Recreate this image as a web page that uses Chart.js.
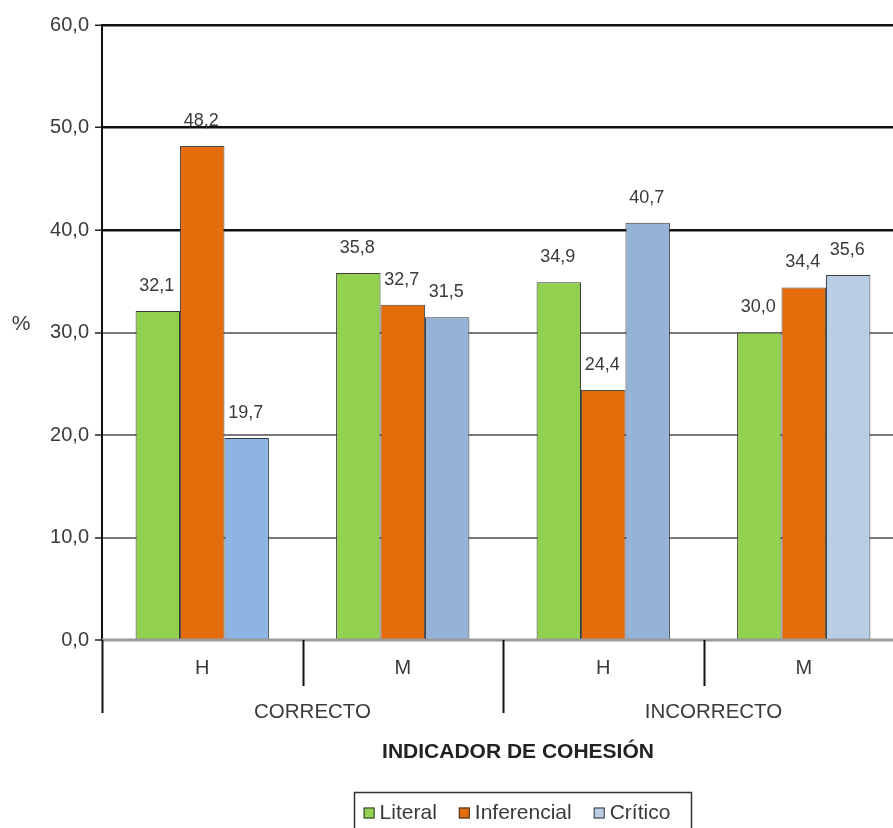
<!DOCTYPE html>
<html>
<head>
<meta charset="utf-8">
<script src="https://cdn.jsdelivr.net/npm/chart.js@4/dist/chart.umd.min.js"></script>
<style>
  html, body { margin: 0; padding: 0; background: #fff; overflow: hidden; }
  #wrap { width: 904px; height: 828px; }
</style>
</head>
<body>
<div id="wrap"><canvas id="c" width="904" height="828"></canvas></div>
<script>
// Sub-categories (sex) and their parent groups
const categories = ['H', 'M', 'H', 'M'];
const groups = ['CORRECTO', 'INCORRECTO'];
const seriesNames = ['Literal', 'Inferencial', 'Crítico'];

// Percentages per reading level
const literal = [32.1, 35.8, 34.9, 30.0];
const inferencial = [48.2, 32.7, 24.4, 34.4];
const critico = [19.7, 31.5, 40.7, 35.6];

const yTicks = [0, 10, 20, 30, 40, 50, 60];
const axisTitle = 'INDICADOR DE COHESIÓN';
const yLabel = '%';

const FONT = '"Liberation Sans", Arial, sans-serif';
const TEXT = '#3a3a3a';
const fmt = v => v.toFixed(1).replace('.', ',');

// Value labels above every bar
const valueLabels = {
  id: 'valueLabels',
  afterDatasetsDraw(chart) {
    const ctx = chart.ctx;
    ctx.save();
    ctx.font = '18px ' + FONT;
    ctx.fillStyle = TEXT;
    ctx.textAlign = 'center';
    ctx.textBaseline = 'middle';
    chart.data.datasets.forEach((ds, di) => {
      chart.getDatasetMeta(di).data.forEach((bar, i) => {
        ctx.fillText(fmt(ds.data[i]), bar.x - 1, bar.y - 25);
      });
    });
    ctx.restore();
  }
};

// Two-level category axis, axis title, y label and boxed legend
const decorations = {
  id: 'decorations',
  afterDraw(chart) {
    const ctx = chart.ctx;
    const area = chart.chartArea;
    const xs = chart.scales.x;
    const n = categories.length;
    const step = area.width / n;
    const base = area.bottom;
    ctx.save();

    // zero line
    ctx.strokeStyle = '#9a9a9a';
    ctx.lineWidth = 3;
    ctx.beginPath();
    ctx.moveTo(area.left, base);
    ctx.lineTo(area.right, base);
    ctx.stroke();

    // separators between categories
    ctx.strokeStyle = '#111';
    ctx.lineWidth = 2;
    for (let i = 0; i <= n; i++) {
      const x = Math.round(xs.getPixelForValue(0) - step / 2 + i * step) + 0.5;
      const long = i % 2 === 0;
      ctx.beginPath();
      ctx.moveTo(x, base);
      ctx.lineTo(x, base + (long ? 73 : 46));
      ctx.stroke();
    }

    ctx.fillStyle = TEXT;
    ctx.textAlign = 'center';
    ctx.textBaseline = 'middle';
    ctx.font = '20px ' + FONT;
    categories.forEach((c, i) => {
      ctx.fillText(c, xs.getPixelForValue(i), base + 28);
    });
    ctx.font = '20.5px ' + FONT;
    groups.forEach((g, gi) => {
      const x0 = xs.getPixelForValue(gi * 2) - step / 2;
      ctx.fillText(g, x0 + step + 10, base + 72);
    });

    const cx = (area.left + area.right) / 2 + 15;
    ctx.fillStyle = '#222';
    ctx.font = 'bold 21px ' + FONT;
    ctx.fillText(axisTitle, cx, base + 112);

    // y label
    ctx.fillStyle = TEXT;
    ctx.font = '21px ' + FONT;
    ctx.fillText(yLabel, 21, chart.scales.y.getPixelForValue(30) - 8);

    // legend
    ctx.font = '21px ' + FONT;
    const sq = 11, gapTxt = 5, gapItem = 22;
    const widths = seriesNames.map(s => ctx.measureText(s).width);
    const total = widths.reduce((a, w) => a + sq + gapTxt + w, 0) + gapItem * (seriesNames.length - 1);
    let x = cx - 1 - total / 2;
    const ly = base + 173;
    ctx.strokeStyle = '#333';
    ctx.lineWidth = 1.5;
    ctx.strokeRect(Math.round(x - 10) + 0.5, base + 152.5, Math.round(total + 30), 60);
    ctx.textAlign = 'left';
    chart.data.datasets.forEach((ds, i) => {
      const col = Array.isArray(ds.backgroundColor) ? ds.backgroundColor[ds.backgroundColor.length - 1] : ds.backgroundColor;
      ctx.fillStyle = col;
      ctx.fillRect(x, ly - sq / 2, sq, sq);
      ctx.strokeStyle = '#333';
      ctx.lineWidth = 1;
      ctx.strokeRect(x + 0.5, ly - sq / 2 + 0.5, sq - 1, sq - 1);
      ctx.fillStyle = TEXT;
      ctx.fillText(seriesNames[i], x + sq + gapTxt, ly);
      x += sq + gapTxt + widths[i] + gapItem;
    });
    ctx.restore();
  }
};

new Chart(document.getElementById('c'), {
  type: 'bar',
  data: {
    labels: categories,
    datasets: [
      { label: seriesNames[0], data: literal, backgroundColor: '#92D050', borderColor: '#3a3a3a', borderWidth: 1 },
      { label: seriesNames[1], data: inferencial, backgroundColor: '#E46C0A', borderColor: '#4a4a4a', borderWidth: 1 },
      { label: seriesNames[2], data: critico, backgroundColor: ['#8DB4E2', '#95B3D7', '#95B3D7', '#B9CDE5'], borderColor: '#3a3a3a', borderWidth: 1 }
    ]
  },
  options: {
    responsive: false,
    animation: false,
    layout: { padding: { top: 25, right: 0, bottom: 0, left: 0 } },
    categoryPercentage: 0.665,
    barPercentage: 1.0,
    plugins: { legend: { display: false }, tooltip: { enabled: false } },
    scales: {
      x: {
        grid: { display: false },
        border: { display: false },
        ticks: { display: false },
        afterFit(scale) { scale.height = 188; }
      },
      y: {
        min: 0,
        max: 60,
        afterBuildTicks(scale) { scale.ticks = yTicks.map(v => ({ value: v })); },
        afterFit(scale) { scale.width = 102; },
        border: { display: true, color: '#111', width: 2 },
        grid: {
          color: c => (c.tick && c.tick.value >= 40 ? '#111' : '#7a7a7a'),
          lineWidth: c => (c.tick && c.tick.value >= 40 ? 2.5 : 2),
          tickColor: '#222',
          tickLength: 7,
          tickWidth: 1.5
        },
        ticks: {
          font: { family: FONT, size: 20 },
          color: TEXT,
          padding: 6,
          callback: v => fmt(v)
        }
      }
    }
  },
  plugins: [valueLabels, decorations]
});
</script>
</body>
</html>
